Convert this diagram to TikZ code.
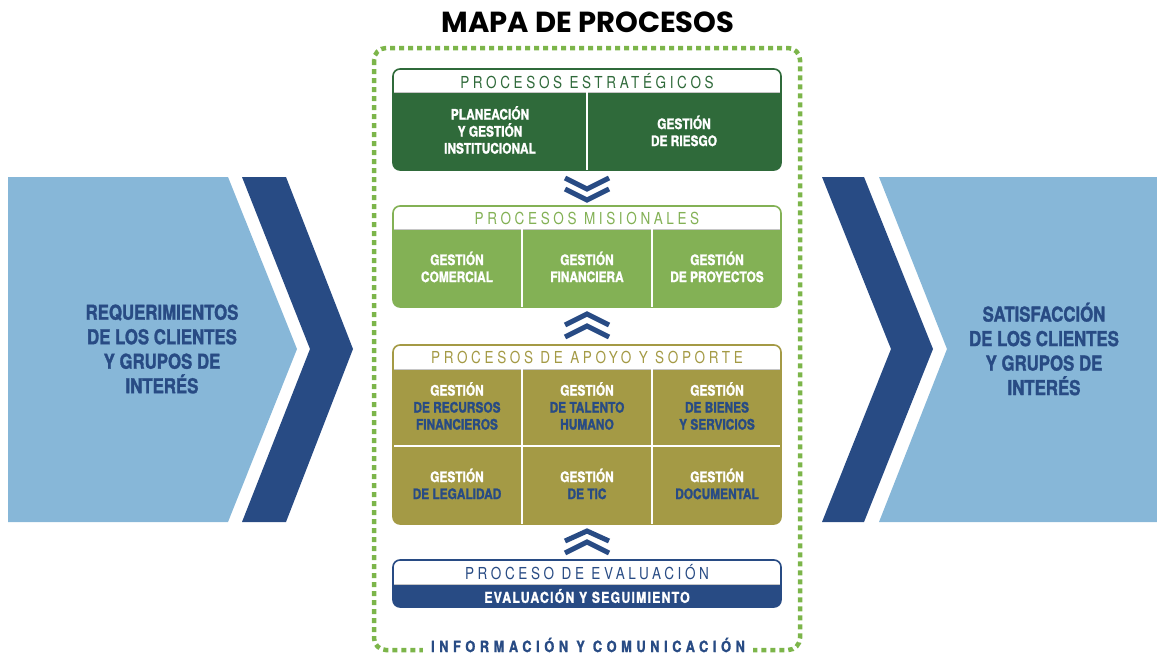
\documentclass[tikz,border=0pt]{standalone}
\usepackage{fontspec}
\setmainfont{TeX Gyre Heros}[FakeStretch=0.82, BoldFeatures={FakeBold=1.4}]
\newfontfamily\titlefont{Poppins}
\usetikzlibrary{positioning}

\definecolor{darkgreen}{HTML}{2F6A3A}
\definecolor{leafgreen}{HTML}{83B155}
\definecolor{olive}{HTML}{A49A45}
\definecolor{navy}{HTML}{284B84}
\definecolor{skyblue}{HTML}{87B7D8}
\definecolor{dotgreen}{HTML}{7CB54A}

% panel: colour, top, header bottom, bottom
\newcommand\procpanel[4]{%
  \fill[#1, rounded corners=7pt] (393,#2) rectangle (781,#4);
  \begin{scope}
    \clip (390,#2-4) rectangle (784,#3);
    \fill[white, rounded corners=7pt] (393,#2) rectangle (781,#4);
  \end{scope}
  \draw[gray!45, line width=0.8pt] (394,#3) -- (780,#3);
  \draw[#1, line width=1.6pt, rounded corners=7pt] (393,#2) rectangle (781,#4);
}

\begin{document}
\begin{tikzpicture}[
    x = 1pt,
    y = -1pt,
    headtitle/.style = {
      font = \fontsize{16.5}{16.5}\selectfont\addfontfeatures{LetterSpace=22},
      inner sep = 0pt
    },
    cell/.style = {
      font = \bfseries\fontsize{14.5}{17}\selectfont,
      align = center,
      text = white,
      inner sep = 0pt
    },
    sidetext/.style = {
      font = \bfseries\fontsize{20.5}{24.5}\selectfont,
      align = center,
      text = navy,
      inner sep = 0pt
    },
    divider/.style = {white, line width=1.3pt},
    chev/.style = {navy, line width=5pt, miter limit=10}
  ]
  \useasboundingbox (0,0) rectangle (1157,654);

  \node[font=\titlefont\bfseries\fontsize{29}{29}\selectfont] (title) at (588,22) {MAPA DE PROCESOS};

  % entrada
  \fill[skyblue] (8,177) -- (228,177) -- (297,349) -- (228,522) -- (8,522) -- cycle;
  \fill[navy] (242,177) -- (286,177) -- (353,349) -- (286,522) -- (242,522) -- (310,349) -- cycle;
  \node[sidetext] (req) at (162,349) {REQUERIMIENTOS\\DE LOS CLIENTES\\Y GRUPOS DE\\INTERÉS};

  % salida
  \fill[navy] (822,177) -- (864,177) -- (933,349) -- (864,522) -- (822,522) -- (891,349) -- cycle;
  \fill[skyblue] (879,177) -- (1157,177) -- (1157,522) -- (879,522) -- (947,349) -- cycle;
  \node[sidetext] (sat) at (1044,349) {SATISFACCIÓN\\DE LOS CLIENTES\\Y GRUPOS DE\\INTERÉS};

  % marco
  \draw[dotgreen, line width=4.5pt, dash pattern=on 5pt off 4pt, rounded corners=12pt] (374,48) rectangle (800,650);
  \node[font=\bfseries\fontsize{15.5}{15.5}\selectfont\addfontfeatures{LetterSpace=30}, text=navy,
        fill=white, inner xsep=8pt, inner ysep=3pt] (infoCom) at (588,645) {INFORMACIÓN Y COMUNICACIÓN};

  % estrategicos
  \procpanel{darkgreen}{69}{92}{170}
  \node[headtitle, text=darkgreen] (hStrat) at (587,81) {PROCESOS ESTRATÉGICOS};
  \draw[divider] (587,92) -- (587,170);
  \node[cell] (plan) at (490,130) {PLANEACIÓN\\Y GESTIÓN\\INSTITUCIONAL};
  \node[cell] (riesgo) at (684,131) {GESTIÓN\\DE RIESGO};

  \draw[chev] (565,178) -- (587,189) -- (609,178);
  \draw[chev] (565,189) -- (587,200) -- (609,189);

  % misionales
  \procpanel{leafgreen}{206}{229}{307}
  \node[headtitle, text=leafgreen] (hMis) at (587,218) {PROCESOS MISIONALES};
  \draw[divider] (522,229) -- (522,307);
  \draw[divider] (652,229) -- (652,307);
  \node[cell] (comercial) at (457,267) {GESTIÓN\\COMERCIAL};
  \node[cell] (financiera) at (587,267) {GESTIÓN\\FINANCIERA};
  \node[cell] (proyectos) at (717,267) {GESTIÓN\\DE PROYECTOS};

  \draw[chev] (565,325) -- (587,314) -- (609,325);
  \draw[chev] (565,337) -- (587,326) -- (609,337);

  % apoyo
  \procpanel{olive}{345}{369}{524}
  \node[headtitle, text=olive] (hApoyo) at (587,357) {PROCESOS DE APOYO Y SOPORTE};
  \draw[divider] (522,369) -- (522,524);
  \draw[divider] (652,369) -- (652,524);
  \draw[divider] (394,446) -- (780,446);
  \node[cell] (recursos) at (457,406) {GESTIÓN\\\textcolor{navy}{DE RECURSOS}\\\textcolor{navy}{FINANCIEROS}};
  \node[cell] (talento) at (587,406) {GESTIÓN\\\textcolor{navy}{DE TALENTO}\\\textcolor{navy}{HUMANO}};
  \node[cell] (bienes) at (717,406) {GESTIÓN\\\textcolor{navy}{DE BIENES}\\\textcolor{navy}{Y SERVICIOS}};
  \node[cell] (legal) at (457,484) {GESTIÓN\\\textcolor{navy}{DE LEGALIDAD}};
  \node[cell] (tic) at (587,484) {GESTIÓN\\\textcolor{navy}{DE TIC}};
  \node[cell] (docum) at (717,484) {GESTIÓN\\\textcolor{navy}{DOCUMENTAL}};

  \draw[chev] (565,541) -- (587,531) -- (609,541);
  \draw[chev] (565,553) -- (587,542) -- (609,553);

  % evaluacion
  \procpanel{navy}{560}{584}{607}
  \node[headtitle, text=navy] (hEval) at (587,572) {PROCESO DE EVALUACIÓN};
  \node[cell, font=\bfseries\fontsize{15}{15}\selectfont\addfontfeatures{LetterSpace=8}] (seguim) at (587,596) {EVALUACIÓN Y SEGUIMIENTO};

\end{tikzpicture}
\end{document}
